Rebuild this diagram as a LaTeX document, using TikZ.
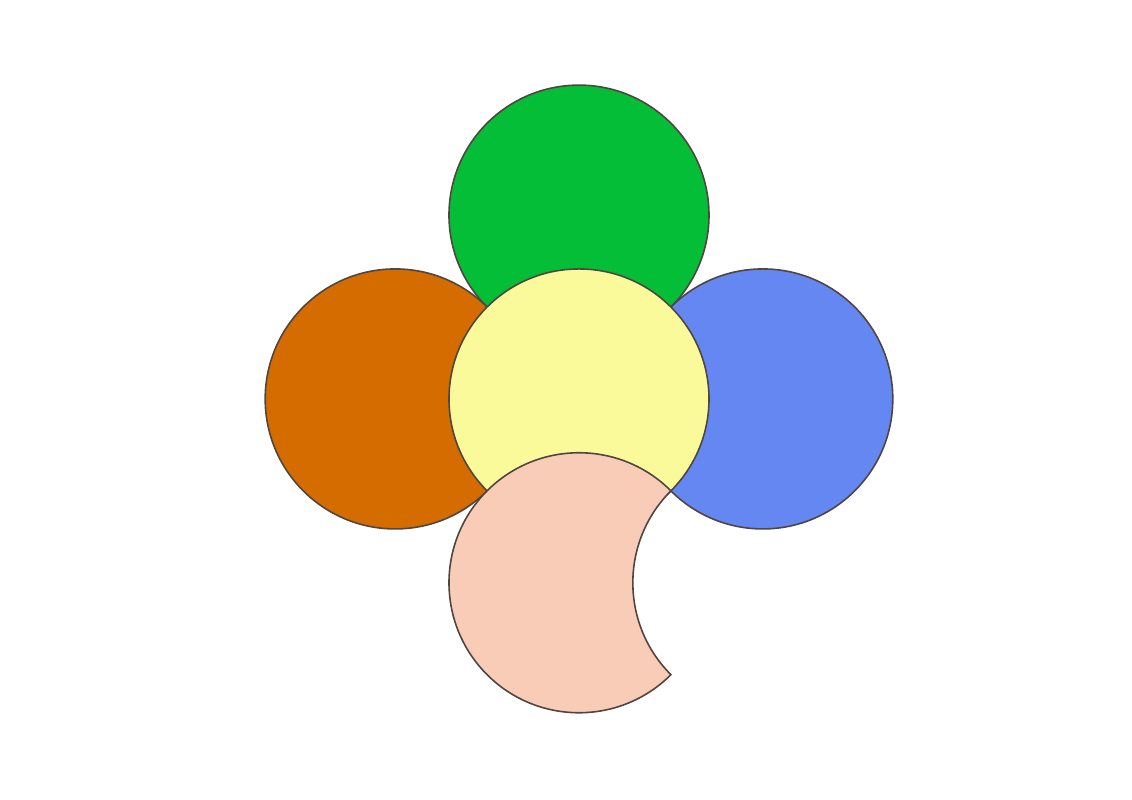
\documentclass[tikz,border=0pt]{standalone}
\usepackage{tikz}
\usetikzlibrary{positioning}
\usetikzlibrary{calc}
\definecolor{leafgreen}{RGB}{5,190,55}
\definecolor{leaforange}{RGB}{213,108,0}
\definecolor{leafblue}{RGB}{100,135,242}
\definecolor{leafyellow}{RGB}{250,250,155}
\definecolor{leafpink}{RGB}{249,204,183}
\definecolor{rim}{RGB}{80,70,65}
\tikzset{petal/.style = {draw = rim, line width = 0.35pt, circle, inner sep = 0, minimum size = 2cm}}

\begin{document}
\begin{tikzpicture}
      \useasboundingbox (-4.454, -3.085) rectangle (4.254, 3.069);

      \node [petal, fill = leafgreen] at (0, 1.414) (top) {};
      \node [petal, fill = leaforange] at (-1.414, 0) (left) {};
      \node [petal, fill = leafblue] at (1.414, 0) (right) {};
      \node [petal, fill = leafyellow] at (0, 0) (middle) {};

      \coordinate (bottom) at (0, -1.414);
      \coordinate (bite) at (1.414, -1.414);
      \coordinate (tip) at ($(bottom) + (45:1)$);

      % crescent: bottom circle with the bite circle cut away
      \draw [draw = rim, line width = 0.35pt, fill = leafpink]
        (tip) arc [start angle = 45, end angle = 315, radius = 1]
        arc [start angle = 225, end angle = 135, radius = 1] -- cycle;
\end{tikzpicture}
\end{document}
